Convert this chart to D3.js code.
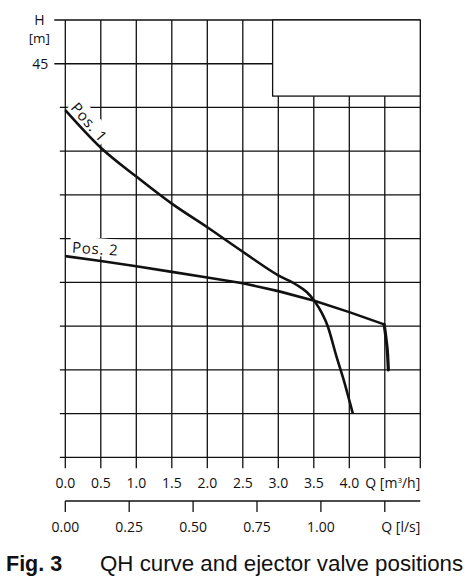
<!DOCTYPE html>
<html>
<head>
<meta charset="utf-8">
<script src="https://cdn.jsdelivr.net/npm/d3@7"></script>
<style>
  body { margin: 0; background: #fff; }
  text { font-family: "Open Sans", "Noto Sans", sans-serif; fill: #111; }
</style>
</head>
<body>
<div id="chart"></div>
<script>
// Q in m3/h, H in m
var pos1Q = [0, 0.5, 1.0, 1.5, 2.0, 2.5, 3.0, 3.26, 3.4, 3.507, 3.7, 3.82, 3.93, 4.0, 4.05];
var pos1H = [39.7, 35.4, 32.1, 29.0, 26.3, 23.5, 20.8, 19.7, 18.9, 17.9, 14.9, 11.5, 8.6, 6.5, 5.0];

var pos2Q = [0, 0.5, 1.0, 1.5, 2.0, 2.5, 3.0, 3.507, 4.0, 4.49];
var pos2H = [23.0, 22.45, 21.85, 21.2, 20.55, 19.9, 19.0, 17.9, 16.6, 15.2];
// steep drop at the end of Pos. 2
var dropQ = [4.49, 4.52, 4.54, 4.55];
var dropH = [15.2, 13.4, 11.7, 10.0];

var qTicks = [0, 0.5, 1.0, 1.5, 2.0, 2.5, 3.0, 3.5, 4.0, 4.5, 5.0];
var qLabels = ["0.0", "0.5", "1.0", "1.5", "2.0", "2.5", "3.0", "3.5", "4.0"];
var lsTicks = [0, 0.25, 0.5, 0.75, 1.0, 1.25];
var lsLabels = ["0.00", "0.25", "0.50", "0.75", "1.00"];
var hTicks = [0, 5, 10, 15, 20, 25, 30, 35, 40, 45, 50];

var W = 470, Hh = 581;
var margin = {top: 20, right: 49.7, bottom: 123.7, left: 65.3};
var width = W - margin.left - margin.right,
    height = Hh - margin.top - margin.bottom;

var svg = d3.select("#chart").append("svg")
  .attr("width", W).attr("height", Hh);
var g = svg.append("g")
  .attr("transform", "translate(" + margin.left + "," + margin.top + ")");

var x = d3.scaleLinear().domain([0, 5]).range([0, width]);
var y = d3.scaleLinear().domain([0, 50]).range([height, 0]);
var xLs = d3.scaleLinear().domain([0, 5 / 3.6]).range([0, width]);

var ink = "#111";

// grid
g.selectAll(".vgrid").data(qTicks).enter().append("line")
  .attr("x1", d => x(d)).attr("x2", d => x(d))
  .attr("y1", y(0)).attr("y2", y(50))
  .attr("stroke", ink).attr("stroke-width", 1.3);
g.selectAll(".hgrid").data(hTicks).enter().append("line")
  .attr("x1", d => (d >= 45 ? -11 : -5.5)).attr("x2", x(5))
  .attr("y1", d => y(d)).attr("y2", d => y(d))
  .attr("stroke", ink).attr("stroke-width", 1.3);

// bottom ticks
g.selectAll(".qtick").data(qTicks).enter().append("line")
  .attr("x1", d => x(d)).attr("x2", d => x(d))
  .attr("y1", y(0)).attr("y2", y(0) + 11)
  .attr("stroke", ink).attr("stroke-width", 1.3);

// legend box, top right
g.append("rect")
  .attr("x", x(2.92)).attr("y", y(50))
  .attr("width", x(5) - x(2.92)).attr("height", y(41.3) - y(50))
  .attr("fill", "#fff").attr("stroke", ink).attr("stroke-width", 1.3);

// H axis labels
g.append("text").attr("x", -26).attr("y", y(50) + 4.5).attr("text-anchor", "middle")
  .style("font-size", "14px").text("H");
g.append("text").attr("x", -26).attr("y", y(50) + 22.5).attr("text-anchor", "middle")
  .style("font-size", "13.5px").text("[m]");
g.append("text").attr("x", -17).attr("y", y(45) + 5).attr("text-anchor", "end")
  .style("font-size", "14px").text("45");

// Q m3/h labels
g.selectAll(".qlab").data(qLabels).enter().append("text")
  .attr("x", (d, i) => x(qTicks[i])).attr("y", y(0) + 31)
  .attr("text-anchor", "middle").style("font-size", "14px").text(d => d);
var qt = g.append("text").attr("x", x(5)).attr("y", y(0) + 31)
  .attr("text-anchor", "end").style("font-size", "14px");
qt.append("tspan").text("Q [m");
qt.append("tspan").attr("dy", -5).style("font-size", "8px").text("3");
qt.append("tspan").attr("dy", 5).text("/h]");

// Q l/s axis
var ly = y(0) + 43.7;
g.append("line").attr("x1", 0).attr("x2", x(5)).attr("y1", ly).attr("y2", ly)
  .attr("stroke", ink).attr("stroke-width", 1.3);
g.selectAll(".lstick").data(lsTicks).enter().append("line")
  .attr("x1", d => xLs(d)).attr("x2", d => xLs(d))
  .attr("y1", ly).attr("y2", ly + 11)
  .attr("stroke", ink).attr("stroke-width", 1.3);
g.selectAll(".lslab").data(lsLabels).enter().append("text")
  .attr("x", (d, i) => xLs(lsTicks[i])).attr("y", ly + 31)
  .attr("text-anchor", "middle").style("font-size", "14px").text(d => d);
g.append("text").attr("x", x(5)).attr("y", ly + 31)
  .attr("text-anchor", "end").style("font-size", "14px").text("Q [l/s]");

// curve labels with white background
function curveLabel(txt, px, py, angle) {
  var lg = g.append("g").attr("transform", "translate(" + px + "," + py + ") rotate(" + angle + ")");
  var bg = lg.append("rect").attr("fill", "#fff");
  var t = lg.append("text").attr("x", 0).attr("y", 0)
    .style("font-size", "15px").style("letter-spacing", "0.8px").text(txt);
  var b = t.node().getBBox();
  bg.attr("x", b.x - 2).attr("y", b.y).attr("width", b.width + 3).attr("height", b.height - 2);
}
curveLabel("Pos. 1", x(0.065), y(39.9), 49);
curveLabel("Pos. 2", x(0.09), y(23.42), 4);

// curves
var line1 = d3.line().x(d => x(d[0])).y(d => y(d[1])).curve(d3.curveMonotoneX);
var lineL = d3.line().x(d => x(d[0])).y(d => y(d[1]));

g.append("path").datum(d3.zip(pos1Q, pos1H)).attr("d", line1)
  .attr("fill", "none").attr("stroke", ink).attr("stroke-width", 2.6);
g.append("path").datum(d3.zip(pos2Q, pos2H)).attr("d", lineL)
  .attr("fill", "none").attr("stroke", ink).attr("stroke-width", 2.6).attr("stroke-linejoin", "round");
g.append("path").datum(d3.zip(dropQ, dropH)).attr("d", line1)
  .attr("fill", "none").attr("stroke", ink).attr("stroke-width", 3.2).attr("stroke-linecap", "round");

// caption
svg.append("text").attr("x", 6).attr("y", 570.5)
  .style("font-family", "'Liberation Sans', Arial, sans-serif").style("font-weight", "bold")
  .style("font-size", "21.5px").text("Fig. 3");
svg.append("text").attr("x", 100).attr("y", 570.5)
  .style("font-family", "'Liberation Sans', Arial, sans-serif")
  .style("font-size", "22.3px").text("QH curve and ejector valve positions");
</script>
</body>
</html>
